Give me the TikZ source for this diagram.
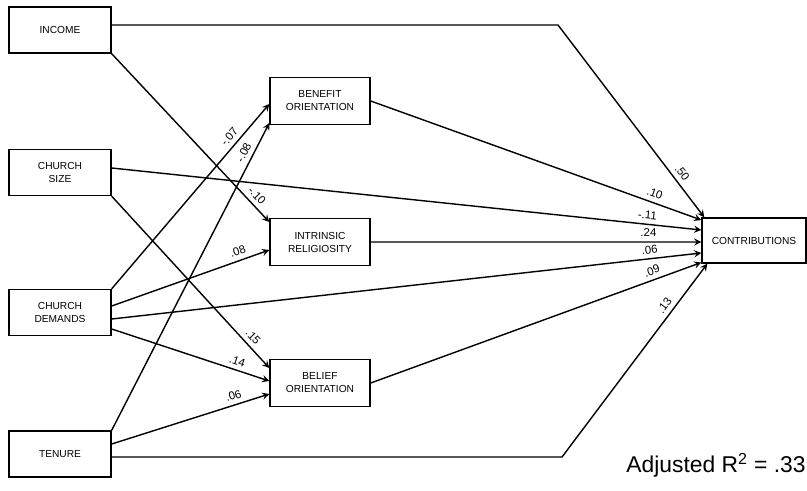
\documentclass[tikz,border=0pt]{standalone}
\usepackage{fontspec}
\setmainfont{Liberation Sans}
\usepackage{xcolor}
\usepackage{tikz}
\usetikzlibrary{arrows, calc}

\begin{document}
\begin{tikzpicture}[
    x={(0.02cm,0)}, y={(0,-0.02cm)},
    box/.style={rectangle, draw, line width=0.8pt, inner sep=0pt, align=center, font=\fontsize{5.8}{7.4}\selectfont},
    varbox/.style={box, minimum width=2.04cm, minimum height=0.92cm},
    midbox/.style={box, minimum width=2.0cm, minimum height=0.94cm},
    arrow/.style={->, line width=0.8pt, >=stealth},
    coef/.style={font=\fontsize{6.5}{7}\selectfont, sloped, above, inner sep=2.5pt}
]
    \useasboundingbox (0,0) rectangle (807,490);

    \node[varbox] (income) at (60,30) {INCOME};
    \node[varbox] (size) at (60,172.5) {CHURCH\\SIZE};
    \node[varbox] (demands) at (60,312.5) {CHURCH\\DEMANDS};
    \node[varbox] (tenure) at (60,454) {TENURE};

    \node[midbox] (benefit) at (320,101) {BENEFIT\\ORIENTATION};
    \node[midbox] (intrinsic) at (320,242) {INTRINSIC\\RELIGIOSITY};
    \node[midbox] (belief) at (320,383) {BELIEF\\ORIENTATION};

    \node[box, minimum width=2.08cm, minimum height=0.9cm] (contrib) at (754,240.5) {CONTRIBUTIONS};

    \node[anchor=east, font=\fontsize{13}{15}\selectfont, inner sep=0pt] (rsq) at (806,465) {Adjusted R\textsuperscript{2} = .33};

    \coordinate (incbend) at (558,25);
    \coordinate (tenbend) at (562,457);

    \draw[arrow] (income.east |- incbend) -- (incbend) -- node[coef, pos=0.80] {.50} ([xshift=0.06cm]contrib.north west);
    \draw[arrow] (income.south east) -- node[coef, pos=0.88] {-.10} ([yshift=0.4cm]intrinsic.west);

    \draw[arrow] ([yshift=0.09cm]size.east) -- node[coef, pos=0.907] {-.11} ([yshift=0.21cm]contrib.west);
    \draw[arrow] (size.south east) -- node[coef, pos=0.855] {.15} ([yshift=0.3cm]belief.west);

    \draw[arrow] (demands.north east) -- node[coef, pos=0.79] {-.07} ([yshift=-0.06cm]benefit.west);
    \draw[arrow] ([yshift=0.13cm]demands.east) -- node[coef, pos=0.82] {.08} ([yshift=-0.16cm]intrinsic.west);
    \draw[arrow] ([yshift=-0.13cm]demands.east) -- node[coef, pos=0.914] {.06} ([yshift=-0.25cm]contrib.west);
    \draw[arrow] ([yshift=-0.33cm]demands.east) -- node[coef, pos=0.78] {.14} ([yshift=0.04cm]belief.west);

    \draw[arrow] (tenure.north east) -- node[coef, pos=0.89] {-.08} ([yshift=-0.44cm]benefit.west);
    \draw[arrow] ([yshift=0.2cm]tenure.east) -- node[coef, pos=0.79] {.06} ([yshift=-0.22cm]belief.west);
    \draw[arrow] (tenure.east |- tenbend) -- (tenbend) -- node[coef, pos=0.755] {.13} ([xshift=0.12cm]contrib.south west);

    \draw[arrow] (benefit.east) -- node[coef, pos=0.85] {.10} ([yshift=0.41cm]contrib.west);
    \draw[arrow] (intrinsic.east) -- node[coef, pos=0.84] {.24} ([yshift=-0.03cm]contrib.west);
    \draw[arrow] (belief.east) -- node[coef, pos=0.86] {.09} ([yshift=-0.44cm]contrib.west);
\end{tikzpicture}
\end{document}
